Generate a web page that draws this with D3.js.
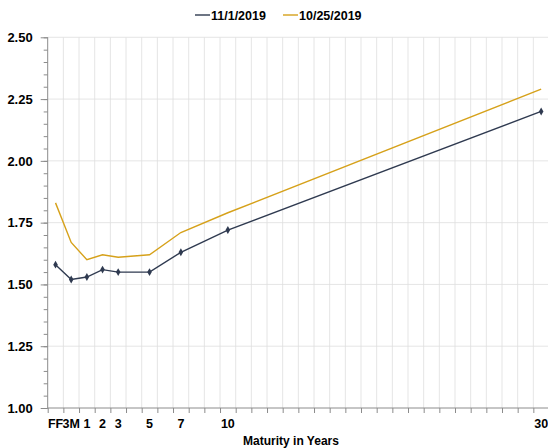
<!DOCTYPE html>
<html>
<head>
<meta charset="utf-8">
<script src="https://cdn.jsdelivr.net/npm/d3@7"></script>
<style>
  body { margin: 0; background: #fff; }
  text { font-family: "Liberation Sans", Arial, sans-serif; font-weight: bold; fill: #000; }
</style>
</head>
<body>
<svg id="chart"></svg>
<script>
// --------------------
//  data
// --------------------
const maturityLabels = ["FF", "3M", "1", "2", "3", "5", "7", "10", "30"];
const maturityYears = [-1, 0, 1, 2, 3, 5, 7, 10, 30]; // FF / 3M placed before year 1
const nov1 = [1.58, 1.52, 1.53, 1.56, 1.55, 1.55, 1.63, 1.72, 2.20];
const oct25 = [1.83, 1.67, 1.60, 1.62, 1.61, 1.62, 1.71, 1.79, 2.29];
const yTicks = [1.00, 1.25, 1.50, 1.75, 2.00, 2.25, 2.50];
const seriesNames = ["11/1/2019", "10/25/2019"];

// --------------------
//  settings
// --------------------
const width = 548;
const height = 448;
const colors = ["#2f3a50", "#d6a11a"];
const grid = "#dedede";
const axisColor = "#8c8c8c";

const svg = d3.select("#chart")
    .attr("width", width)
    .attr("height", height);

const x = d3.scaleLinear().domain([-1.5, 30.5]).range([47.7, 549]);
const y = d3.scaleLinear().domain([1, 2.5]).range([408, 37.3]);

// grid lines
const vGrid = d3.range(-0.5, 30, 1);
svg.append("g")
    .selectAll("line")
    .data(vGrid)
    .join("line")
    .attr("x1", d => x(d)).attr("x2", d => x(d))
    .attr("y1", y(2.5)).attr("y2", y(1))
    .attr("stroke", grid)
    .attr("stroke-width", 0.8);

svg.append("g")
    .selectAll("line")
    .data(yTicks.slice(1))
    .join("line")
    .attr("x1", x(-1.5)).attr("x2", width)
    .attr("y1", d => y(d)).attr("y2", d => y(d))
    .attr("stroke", grid)
    .attr("stroke-width", 0.8);

// y axis (major + minor ticks)
const yMinor = d3.range(1, 2.5001, 0.05);
svg.append("g")
    .attr("transform", `translate(${x(-1.5)},0)`)
    .call(d3.axisLeft(y).tickValues(yMinor).tickSize(4).tickFormat(""))
    .call(g => g.select(".domain").remove())
    .call(g => g.selectAll("line").attr("stroke", axisColor));

const yAxis = svg.append("g")
    .attr("transform", `translate(${x(-1.5)},0)`)
    .call(d3.axisLeft(y).tickValues(yTicks).tickSize(7).tickPadding(8).tickFormat(d3.format(".2f")));
yAxis.select(".domain").attr("stroke", axisColor).attr("d", `M0,${y(2.5)}V${y(1)}`);
yAxis.selectAll("line").attr("stroke", axisColor);
yAxis.selectAll("text")
    .attr("font-size", 13)
    .attr("font-family", "Liberation Sans, Arial, sans-serif")
    .attr("font-weight", "bold")
    .attr("fill", "#000");

// x axis
const xAxis = svg.append("g")
    .attr("transform", `translate(0,${y(1)})`)
    .call(d3.axisBottom(x).tickValues(d3.range(-1.5, 30, 1)).tickSize(5).tickFormat(""));
xAxis.select(".domain").attr("stroke", axisColor).attr("d", `M${x(-1.5)},0H${width}`);
xAxis.selectAll("line").attr("stroke", axisColor);

svg.append("g")
    .selectAll("text")
    .data(maturityLabels)
    .join("text")
    .attr("x", (d, i) => x(maturityYears[i]))
    .attr("y", 428)
    .attr("text-anchor", "middle")
    .attr("font-size", 12.5)
    .text(d => d);

svg.append("text")
    .attr("x", 291)
    .attr("y", 445)
    .attr("text-anchor", "middle")
    .attr("font-size", 12)
    .text("Maturity in Years");

// lines
const line = d3.line()
    .x((d, i) => x(maturityYears[i]))
    .y(d => y(d));

[oct25, nov1].forEach((s, k) => {
    svg.append("path")
        .datum(s)
        .attr("fill", "none")
        .attr("stroke", k === 0 ? colors[1] : colors[0])
        .attr("stroke-width", 1.4)
        .attr("d", line);
});

// markers on 11/1/2019
svg.append("g")
    .selectAll("path")
    .data(nov1)
    .join("path")
    .attr("transform", (d, i) => `translate(${x(maturityYears[i])},${y(d)})`)
    .attr("d", d3.symbol(d3.symbolDiamond, 18))
    .attr("fill", colors[0]);

// legend
const legend = svg.append("g");
const legendX = [195, 283];
seriesNames.forEach((name, i) => {
    legend.append("line")
        .attr("x1", legendX[i]).attr("x2", legendX[i] + 15)
        .attr("y1", 15).attr("y2", 15)
        .attr("stroke", colors[i])
        .attr("stroke-width", 1.4);
    legend.append("text")
        .attr("x", legendX[i] + 16)
        .attr("y", 19.5)
        .attr("font-size", 12.5)
        .text(name);
});
</script>
</body>
</html>
